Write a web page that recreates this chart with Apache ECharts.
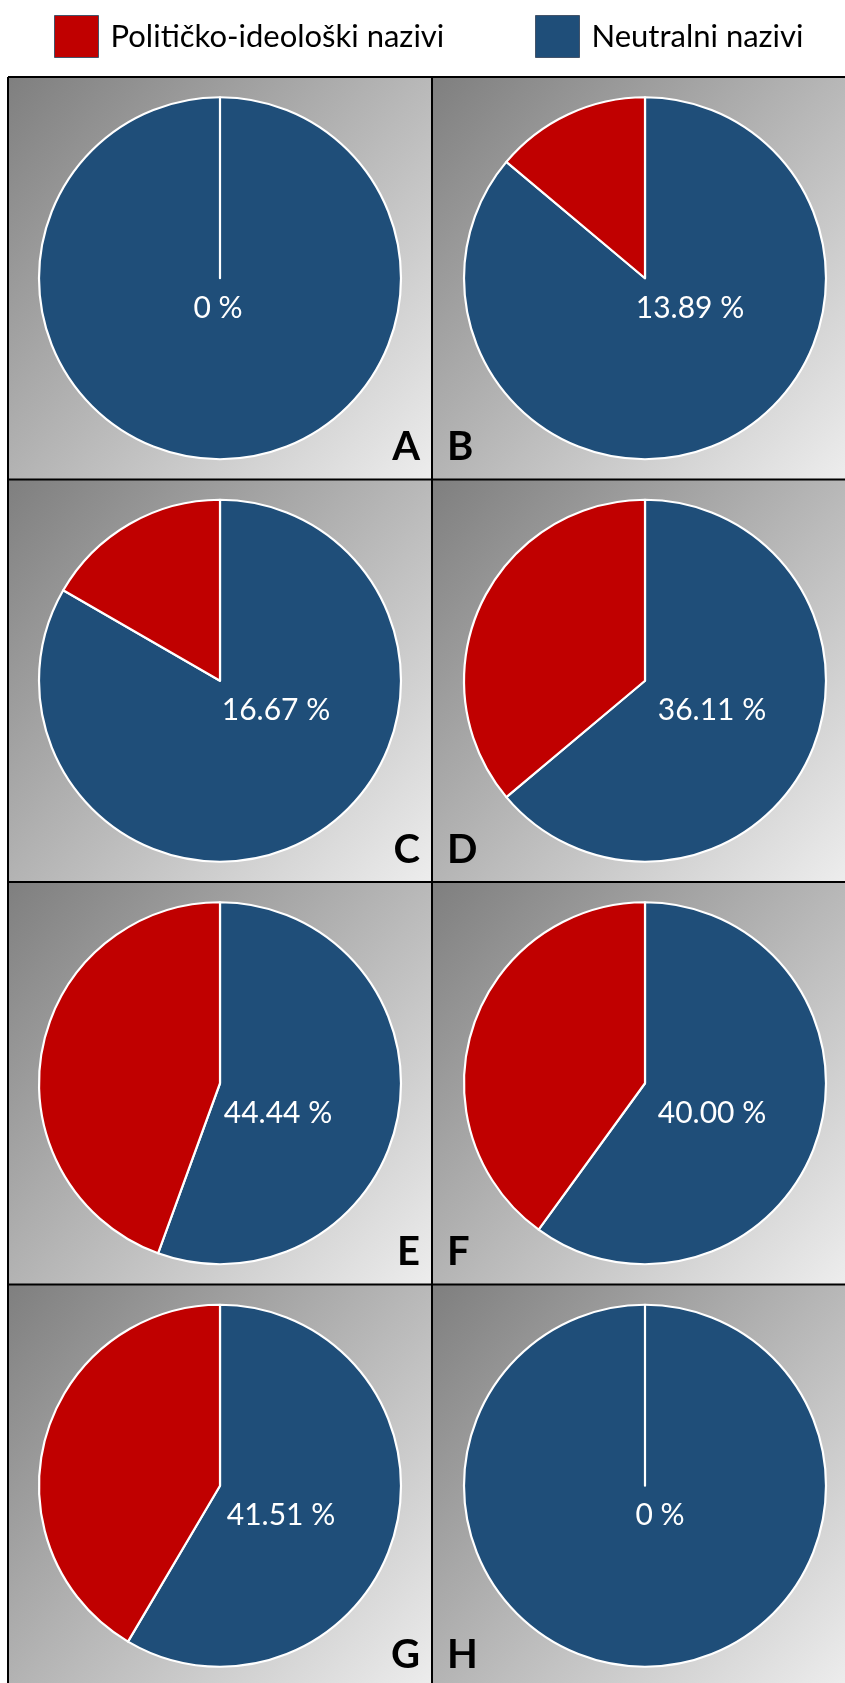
<!DOCTYPE html>
<html><head><meta charset="utf-8">
<script src="https://cdn.jsdelivr.net/npm/echarts@6.0.0/dist/echarts.min.js"></script>
<style>html,body{margin:0;padding:0;background:#fff}#c{width:845px;height:1683px}</style>
</head><body><div id="c"></div>
<script>
// ---- data ----
const panelLetters = ['A', 'B', 'C', 'D', 'E', 'F', 'G', 'H'];
const categories = ['Političko-ideološki nazivi', 'Neutralni nazivi'];
const politicalPct = [0, 13.89, 16.67, 36.11, 44.44, 40.00, 41.51, 0];
const neutralPct = [100, 86.11, 83.33, 63.89, 55.56, 60.00, 58.49, 100];

// ---- style / layout ----
const colors = { pol: '#C00000', neu: '#1F4E79' };
const FONT = 'Lato';
const gridLeft = 8, gridMid = 432, gridRight = 845, gridTop = 77, gridBottom = 1683;
const rowH = 402.5;
const colCX = [220, 645];
const R = 181;
const labelDX = [-2, 45, 56, 67, 58, 67, 61, 15];
const labelDY = 30;

function fmt(v) { return v === 0 ? '0 %' : v.toFixed(2) + ' %'; }

const series = [], titles = [], graphics = [];
for (let i = 0; i < panelLetters.length; i++) {
  const col = i % 2, row = Math.floor(i / 2);
  const x0 = col === 0 ? gridLeft : gridMid;
  const x1 = col === 0 ? gridMid : gridRight;
  const y0 = gridTop + row * rowH;
  const cx = colCX[col], cy = y0 + rowH / 2;
  graphics.push({
    type: 'rect', z: -10, silent: true,
    shape: { x: x0, y: y0, width: x1 - x0, height: rowH },
    style: { fill: new echarts.graphic.LinearGradient(0, 0, 1, 1, [
      { offset: 0, color: '#7f7f7f' }, { offset: 1, color: '#ededed' }]) }
  });
  series.push({
    type: 'pie', silent: true, animation: false,
    center: [cx, cy], radius: [0, R], startAngle: 90, clockwise: true,
    label: { show: false }, labelLine: { show: false },
    itemStyle: { borderColor: '#ffffff', borderWidth: 2.2 },
    emphasis: { disabled: true },
    data: [
      { name: categories[1], value: neutralPct[i], itemStyle: { color: colors.neu } },
      { name: categories[0], value: politicalPct[i], itemStyle: { color: colors.pol } }
    ]
  });
  titles.push({
    text: fmt(politicalPct[i]), left: cx + labelDX[i], top: cy + labelDY, padding: 0,
    textAlign: 'center', textVerticalAlign: 'middle',
    textStyle: { color: '#ffffff', fontFamily: FONT, fontSize: 30, fontWeight: 'normal' }
  });
  titles.push({
    text: panelLetters[i], padding: 0,
    left: col === 0 ? x1 - 12 : x0 + 15, top: y0 + rowH - 32,
    textAlign: col === 0 ? 'right' : 'left', textVerticalAlign: 'middle',
    textStyle: { color: '#000000', fontFamily: FONT, fontSize: 40, fontWeight: 'bold' }
  });
}
// grid lines
const lineStyle = { stroke: '#000000', lineWidth: 2 };
graphics.push({ type: 'line', z: 5, shape: { x1: gridLeft, y1: gridTop, x2: gridRight, y2: gridTop }, style: lineStyle });
graphics.push({ type: 'line', z: 5, shape: { x1: gridLeft, y1: gridTop, x2: gridLeft, y2: gridBottom }, style: lineStyle });
graphics.push({ type: 'line', z: 5, shape: { x1: gridMid, y1: gridTop, x2: gridMid, y2: gridBottom }, style: lineStyle });
for (let r = 1; r < 4; r++) {
  const y = gridTop + r * rowH;
  graphics.push({ type: 'line', z: 5, shape: { x1: gridLeft, y1: y, x2: gridRight, y2: y }, style: lineStyle });
}

const legendCommon = {
  top: 15, padding: 0, itemWidth: 44, itemHeight: 42, icon: 'rect',
  selectedMode: false,
  itemStyle: { borderColor: '#44546A', borderWidth: 1 },
  textStyle: { fontFamily: FONT, fontSize: 31, color: '#000000', padding: [0, 0, 0, 7] }
};

const chart = echarts.init(document.getElementById('c'), null, { renderer: 'canvas' });
chart.setOption({
  animation: false,
  backgroundColor: '#ffffff',
  legend: [
    Object.assign({ left: 54, data: [categories[0]] }, legendCommon),
    Object.assign({ left: 535, data: [categories[1]] }, legendCommon)
  ],
  title: titles,
  graphic: graphics,
  series: series
});
</script></body></html>
